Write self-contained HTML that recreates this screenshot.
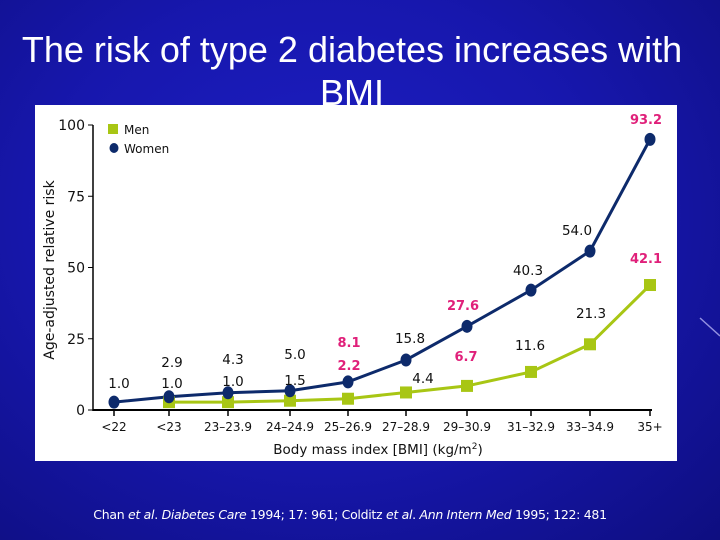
<!DOCTYPE html>
<html><head><meta charset="utf-8"><style>
html,body{margin:0;padding:0}
body{width:720px;height:540px;overflow:hidden;position:relative;font-family:"Liberation Sans",sans-serif;
background:radial-gradient(ellipse at 45% 40%,#1d1fc4 0%,#1717ad 50%,#0e0e80 100%);}
.title{position:absolute;left:0;width:704px;text-align:center;color:#fff;font-size:36px;line-height:43px}
.cite{position:absolute;left:0;width:700px;top:507px;text-align:center;color:#fff;font-size:12.5px;font-family:"DejaVu Sans",sans-serif;letter-spacing:-0.3px}
svg{position:absolute;left:0;top:0}
</style></head><body>
<div class="title" style="top:28px">The risk of type 2 diabetes increases with<br>BMI</div>
<svg width="720" height="540">
<line x1="700" y1="318" x2="720" y2="336" stroke="#c9c6ff" stroke-width="1.5" opacity="0.7"/>
<rect x="35" y="105" width="642" height="356" fill="#fff"/>
<g id="axes" font-family="DejaVu Sans, sans-serif" font-size="13" fill="#111"></g>
<g id="marks"></g>
</svg>
<div class="cite">Chan <i>et al</i>. <i>Diabetes Care</i> 1994; 17: 961; Colditz <i>et al</i>. <i>Ann Intern Med</i> 1995; 122: 481</div>
<script>
const categories=["<22","<23","23–23.9","24–24.9","25–26.9","27–28.9","29–30.9","31–32.9","33–34.9","35+"];
const women=[1.0,2.9,4.3,5.0,8.1,15.8,27.6,40.3,54.0,93.2];
const men=[null,1.0,1.0,1.5,2.2,4.4,6.7,11.6,21.3,42.1];
const yTicks=[0,25,50,75,100];
const xPos=[114,169,228,290,348,406,467,531,590,650];
function x(i){return xPos[i];}
function y(v){return 410-v*2.85;}
function ym(v){return 405-v*2.85;}
const NS="http://www.w3.org/2000/svg";
const ax=document.getElementById('axes'),mk=document.getElementById('marks');
function el(t,a,p){const e=document.createElementNS(NS,t);for(const k in a)e.setAttribute(k,a[k]);p.appendChild(e);return e;}
let l=el('line',{x1:93,y1:125,x2:93,y2:411,stroke:'#000','stroke-width':1.5},ax);

l=el('line',{x1:93,y1:410,x2:652,y2:410,stroke:'#000','stroke-width':2},ax);

yTicks.forEach(v=>{
 el('line',{x1:88,x2:93,y1:y(v),y2:y(v),stroke:'#000'},ax);
 const t=el('text',{x:85,y:y(v)+5,'text-anchor':'end','font-size':14},ax);t.textContent=v;
 
});
categories.forEach((c,i)=>{
 el('line',{x1:x(i),x2:x(i),y1:410,y2:416,stroke:'#000','stroke-width':1.5},ax);
 const t=el('text',{x:x(i),y:431,'text-anchor':'middle','font-size':12},ax);t.textContent=c;
 
});
let t=el('text',{x:378,y:454,'text-anchor':'middle','font-size':13.5},ax);t.innerHTML='Body mass index [BMI] (kg/m<tspan font-size="9" dy="-5">2</tspan><tspan dy="5">)</tspan>';

t=el('text',{x:54,y:270,'text-anchor':'middle','font-size':14,transform:'rotate(-90 54 270)'},ax);t.textContent='Age-adjusted relative risk';

let r=el('rect',{x:108,y:124,width:10,height:10,fill:'#a8c614'},ax);

t=el('text',{x:124,y:134,'font-size':12},ax);t.textContent='Men';

r=el('ellipse',{cx:114,cy:148,rx:4.5,ry:5,fill:'#0d2a6b'},ax);

t=el('text',{x:124,y:153,'font-size':12},ax);t.textContent='Women';

function line(data,color,name){
 const pts=data.map((v,i)=>v==null?null:x(i)+','+ym(v)).filter(p=>p).join(' ');
 const p=el('polyline',{points:pts,fill:'none',stroke:color,'stroke-width':3},mk);
 
}
line(men,'#a8c614','men-line');line(women,'#0d2a6b','women-line');
men.forEach((v,i)=>{if(v==null)return;
 const m=el('rect',{x:x(i)-6,y:ym(v)-6,width:12,height:12,fill:'#a8c614'},mk);
 });
women.forEach((v,i)=>{
 const m=el('ellipse',{cx:x(i),cy:ym(v),rx:5.5,ry:6.5,fill:'#0d2a6b'},mk);
 });
const labels=[["1.0",0,388,0],["2.9",1,367,0],["1.0",1,388,0],["4.3",2,364,0],["1.0",2,386,0],["5.0",3,359,0],["1.5",3,385,0],
["8.1",4,347,1],["2.2",4,370,1],["15.8",5,343,0],["4.4",5,383,0],["27.6",6,310,1],["6.7",6,361,1],["40.3",7,275,0],["11.6",7,350,0],
["54.0",8,235,0],["21.3",8,318,0],["93.2",9,124,1],["42.1",9,263,1]];
const dx=[5,3,5,5,1,4,-4,-3,-13,-4];
labels.forEach(([s,i,yy,p])=>{
 let off=dx[i]; if(s==="4.4")off=17; if(s==="11.6")off=-1; if(s==="21.3")off=1; if(s==="6.7")off=-1;
 const e=el('text',{x:x(i)+off,y:yy,'text-anchor':'middle',fill:p?'#e0207a':'#111','font-weight':p?'bold':'normal','font-family':'DejaVu Sans, sans-serif'},mk);
 e.setAttribute('font-size',p?13:13.5);e.textContent=s;
 
});
</script>
</body></html>
